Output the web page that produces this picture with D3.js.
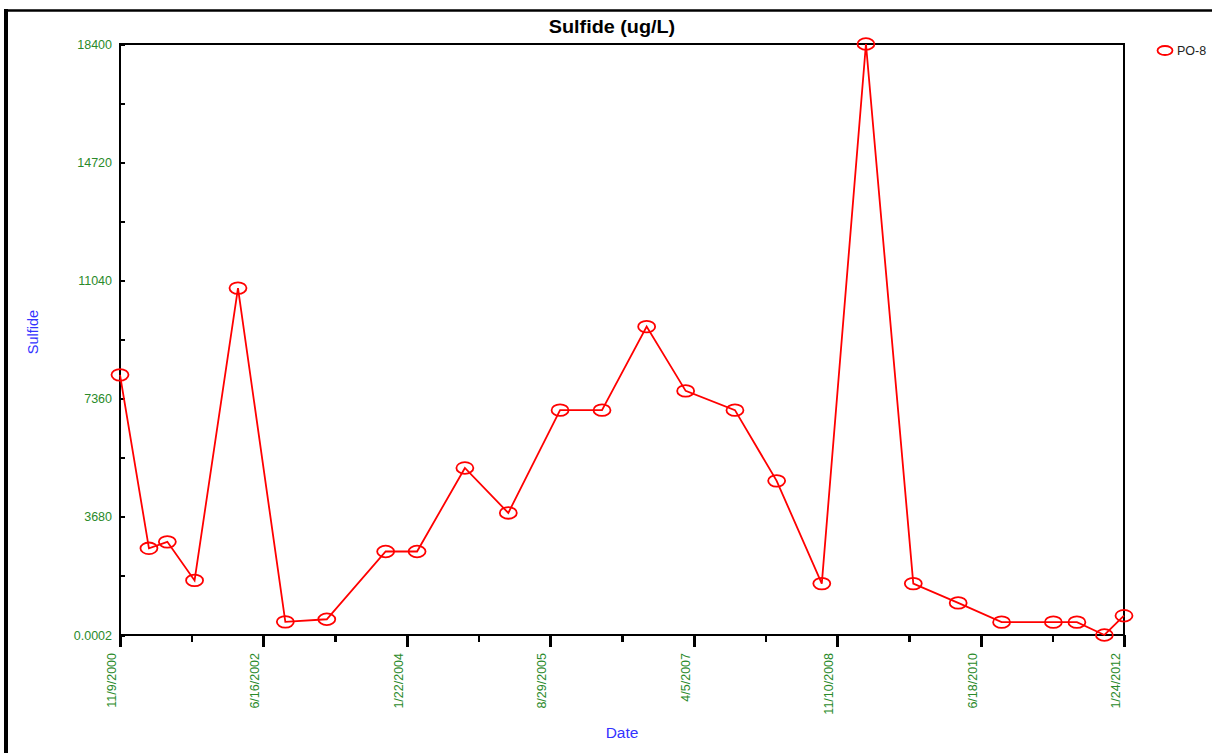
<!DOCTYPE html>
<html>
<head>
<meta charset="utf-8">
<title>Sulfide (ug/L)</title>
<script src="https://cdn.jsdelivr.net/npm/d3@7"></script>
<style>
html, body { margin: 0; background: #fff; }
svg { display: block; font-family: "Liberation Sans", Arial, sans-serif; }
.axis path, .axis line { stroke: #000; shape-rendering: crispEdges; }
.axis text { fill: #2a8a2a; }
</style>
</head>
<body>
<svg width="1212" height="753"></svg>
<script>
// sample dates (m/d/yyyy) and sulfide values
var sampleDates = ["11/9/2000", "3/7/2001", "5/21/2001", "9/9/2001", "3/5/2002", "9/14/2002",
  "3/2/2003", "10/28/2003", "3/4/2004", "9/15/2004", "3/11/2005", "10/8/2005",
  "3/28/2006", "9/26/2006", "3/4/2007", "9/21/2007", "3/9/2008", "9/9/2008",
  "3/8/2009", "9/17/2009", "3/19/2010", "9/12/2010", "4/11/2011", "7/16/2011",
  "11/5/2011", "1/24/2012"];
var sulfide = [8100, 2700, 2900, 1700, 10800, 410,
  490, 2600, 2600, 5200, 3800, 7000,
  7000, 9600, 7600, 7000, 4800, 1600,
  18400, 1600, 1000, 400, 400, 400,
  0.0002, 600];

var xTickLabels = ["11/9/2000", "6/16/2002", "1/22/2004", "8/29/2005", "4/5/2007", "11/10/2008", "6/18/2010", "1/24/2012"];
var yTicks = [0.0002, 3680, 7360, 11040, 14720, 18400];
var yMinorTicks = [1840, 5520, 9200, 12880, 16560];
var seriesName = "PO-8";

var parse = d3.timeParse("%m/%d/%Y");
var data = sampleDates.map(function(d, i) { return {date: parse(d), value: sulfide[i]}; });
var xTickDates = xTickLabels.map(parse);
var xMinor = d3.pairs(xTickDates).map(function(p) { return new Date((+p[0] + +p[1]) / 2); });

var svg = d3.select("svg"),
    margin = {top: 44, left: 120},
    width = 1004,
    height = 591,
    g = svg.append("g").attr("transform", "translate(" + margin.left + "," + margin.top + ")");

// outer frame (only left and top edges fall inside the picture)
svg.append("line").attr("x1", 6).attr("x2", 6).attr("y1", 9).attr("y2", 753)
  .attr("stroke", "#000").attr("stroke-width", 4);
svg.append("line").attr("x1", 4).attr("x2", 1212).attr("y1", 10.5).attr("y2", 10.5)
  .attr("stroke", "#000").attr("stroke-width", 2.5);

var x = d3.scaleTime().domain([xTickDates[0], xTickDates[xTickDates.length - 1]]).range([0, width]),
    y = d3.scaleLinear().domain([0, 18400]).range([height, 0]);

// title
svg.append("text")
  .attr("x", 612).attr("y", 33)
  .attr("text-anchor", "middle")
  .attr("font-size", 18).attr("font-weight", "bold")
  .attr("transform", "translate(612,0) scale(1.1,1) translate(-612,0)")
  .text("Sulfide (ug/L)");

// x axis, major + minor ticks
var fmt = d3.timeFormat("%-m/%-d/%Y");
g.append("g")
  .attr("class", "axis")
  .attr("transform", "translate(0," + height + ")")
  .call(d3.axisBottom(x).tickValues(xMinor).tickSize(7).tickFormat(""))
  .call(function(a) { a.select(".domain").remove(); a.selectAll("line").attr("stroke-width", 2.5); });

g.append("g")
  .attr("class", "axis")
  .attr("transform", "translate(0," + height + ")")
  .call(d3.axisBottom(x).tickValues(xTickDates).tickSize(12).tickSizeOuter(0).tickFormat(fmt))
  .call(function(a) {
    a.select(".domain").remove();
    a.selectAll("line").attr("stroke-width", 3);
    a.selectAll("text")
      .attr("transform", "rotate(-90)")
      .attr("text-anchor", "end")
      .attr("x", -18).attr("y", -4.5).attr("dy", "0")
      .attr("font-size", 12.5);
  });

// y axis, ticks point into the plot
g.append("g")
  .attr("class", "axis")
  .call(d3.axisLeft(y).tickValues(yMinorTicks).tickSize(-5).tickFormat(""))
  .call(function(a) { a.select(".domain").remove(); a.selectAll("line").attr("stroke-width", 2); });

g.append("g")
  .attr("class", "axis")
  .call(d3.axisLeft(y).tickValues(yTicks).tickSize(-5).tickSizeOuter(0).tickPadding(8).tickFormat(function(d) { return d; }))
  .call(function(a) {
    a.select(".domain").remove();
    a.selectAll("line").attr("stroke-width", 2);
    a.selectAll("text").attr("font-size", 12.5);
  });

// plot frame
g.append("rect")
  .attr("width", width).attr("height", height)
  .attr("fill", "none").attr("stroke", "#000").attr("stroke-width", 2);

// axis titles
svg.append("text")
  .attr("transform", "translate(38,332) rotate(-90)")
  .attr("text-anchor", "middle")
  .attr("fill", "#3333ff").attr("font-size", 14.5)
  .text("Sulfide");

svg.append("text")
  .attr("x", 622).attr("y", 738)
  .attr("text-anchor", "middle")
  .attr("fill", "#3333ff").attr("font-size", 15.5)
  .text("Date");

// series
var line = d3.line()
  .x(function(d) { return x(d.date); })
  .y(function(d) { return y(d.value); });

g.append("path")
  .datum(data)
  .attr("fill", "none")
  .attr("stroke", "#ff0000")
  .attr("stroke-width", 1.8)
  .attr("d", line);

g.selectAll(".dot")
  .data(data)
  .enter().append("ellipse")
  .attr("class", "dot")
  .attr("cx", function(d) { return x(d.date); })
  .attr("cy", function(d) { return y(d.value); })
  .attr("rx", 8.5).attr("ry", 5.8)
  .attr("fill", "none")
  .attr("stroke", "#ff0000")
  .attr("stroke-width", 1.8);

// legend
var legend = svg.append("g").attr("transform", "translate(1165,50.5)");
legend.append("ellipse").attr("rx", 7.5).attr("ry", 4.5)
  .attr("fill", "none").attr("stroke", "#ff0000").attr("stroke-width", 1.8);
legend.append("text").attr("x", 12).attr("y", 4.5)
  .attr("font-size", 12.5).attr("fill", "#222")
  .text(seriesName);
</script>
</body>
</html>
